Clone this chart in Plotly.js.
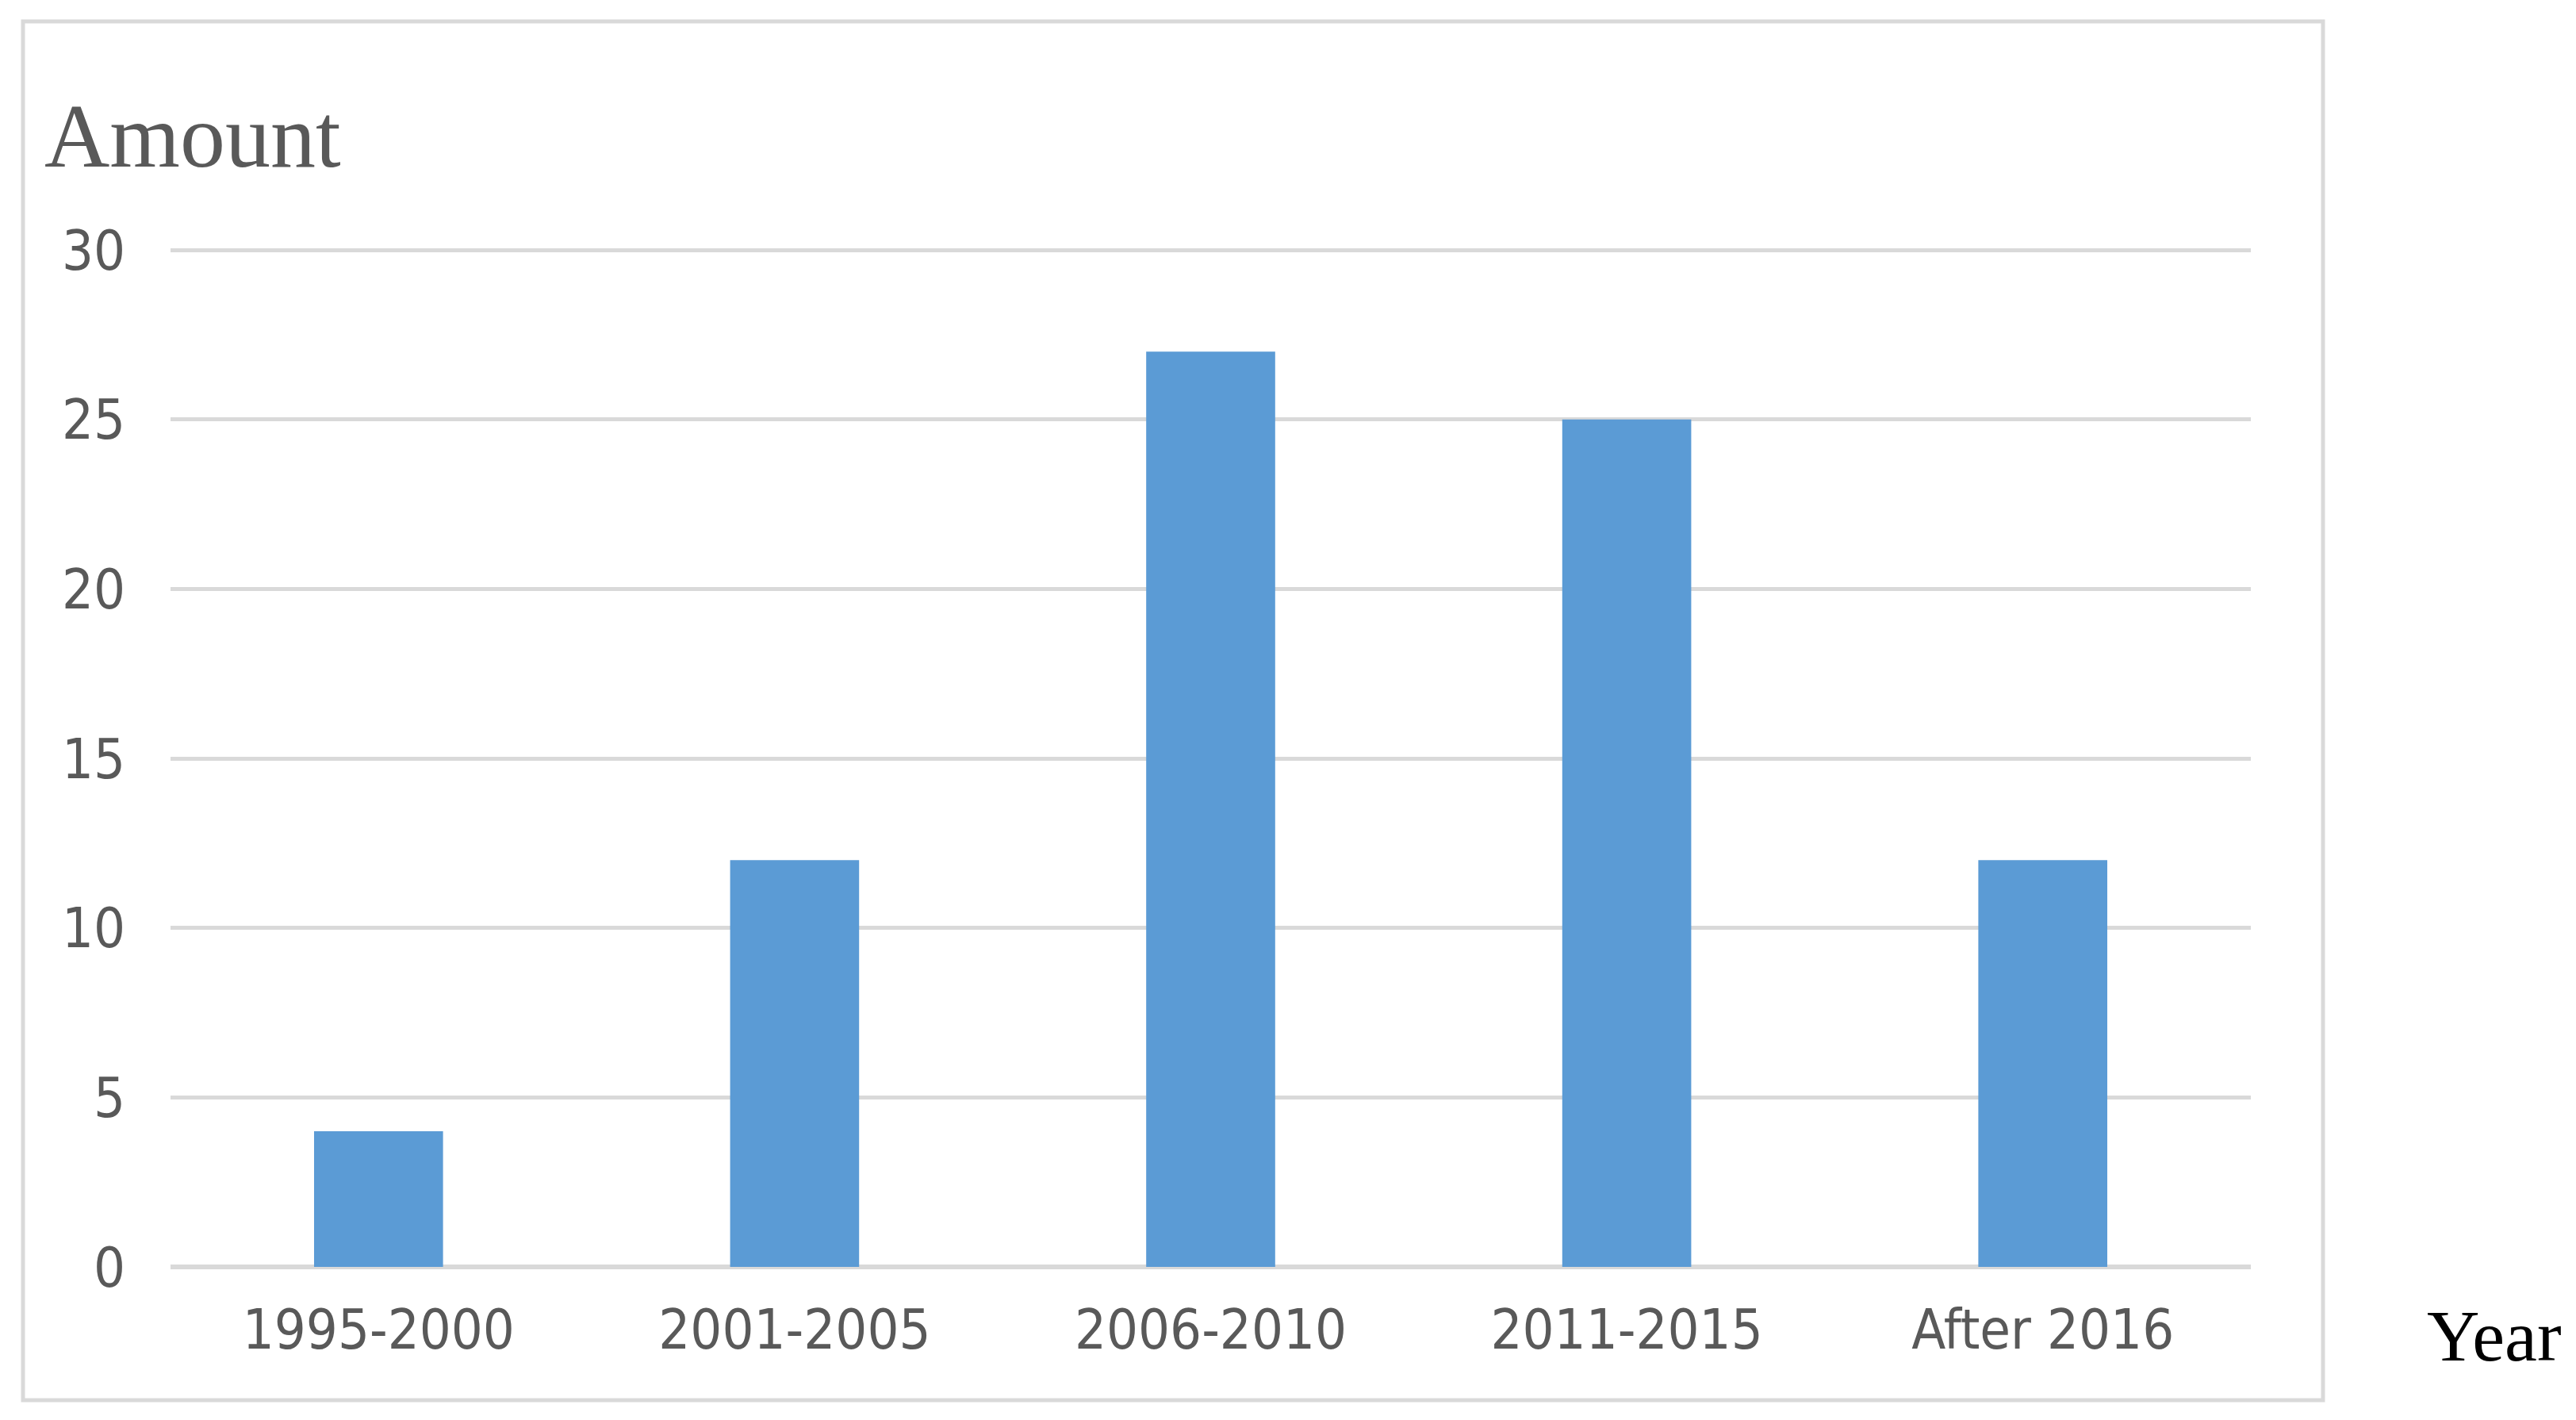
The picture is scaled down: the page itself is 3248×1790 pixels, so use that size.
<!DOCTYPE html>
<html>
<head>
<meta charset="utf-8">
<script src="https://cdn.plot.ly/plotly-3.0.1.min.js"></script>
<style>
  html, body { margin: 0; padding: 0; background: #fff; }
  #chart { width: 3248px; height: 1790px; }
</style>
</head>
<body>
<div id="chart"></div>
<script>
// data
const periods = ["1995-2000", "2001-2005", "2006-2010", "2011-2015", "After 2016"];
const amounts = [4, 12, 27, 25, 12];
const yTicks = [0, 5, 10, 15, 20, 25, 30];

const W = 3248, H = 1790;
const M = { l: 215, r: 410, t: 313, b: 193 };
const pw = W - M.l - M.r, ph = H - M.t - M.b;
// pixel -> paper fraction
const fx = (px) => (px - M.l) / pw;
const fy = (py) => 1 - (py - M.t) / ph;

const grey = "#595959";
const tickFont = { family: "Liberation Sans Narrow, DejaVu Sans Condensed, Arial Narrow, sans-serif", size: 70, color: grey };

Plotly.newPlot("chart", [{
  type: "bar",
  x: periods,
  y: amounts,
  marker: { color: "#5b9bd5" },
  hoverinfo: "x+y",
}], {
  width: W,
  height: H,
  margin: M,
  paper_bgcolor: "#fff",
  plot_bgcolor: "#fff",
  bargap: 0.69,
  showlegend: false,
  xaxis: {
    type: "category",
    showgrid: false,
    showline: false,
    zeroline: false,
    ticks: "",
    tickfont: tickFont,
    ticklabelstandoff: 32,
  },
  yaxis: {
    range: [0, 30.05], // a hair over 30 so the top gridline is drawn
    tickvals: yTicks,
    showgrid: true,
    gridcolor: "#d9d9d9",
    gridwidth: 5,
    zeroline: true,
    zerolinecolor: "#d9d9d9",
    zerolinewidth: 6,
    showline: false,
    ticks: "",
    tickfont: tickFont,
    ticklabelstandoff: 56,
  },
  shapes: [{
    type: "rect", xref: "paper", yref: "paper", layer: "below",
    x0: fx(29), x1: fx(2929), y0: fy(1765), y1: fy(27),
    line: { color: "#d9d9d9", width: 5 },
    fillcolor: "rgba(0,0,0,0)",
  }],
  annotations: [
    {
      text: "Amount", xref: "paper", yref: "paper",
      x: fx(54), y: fy(172), xanchor: "left", yanchor: "middle",
      showarrow: false,
      font: { family: "Liberation Serif, Times New Roman, serif", size: 114, color: grey },
    },
    {
      text: "Year", xref: "paper", yref: "paper",
      x: fx(3058), y: fy(1684), xanchor: "left", yanchor: "middle",
      showarrow: false,
      font: { family: "Liberation Serif, Times New Roman, serif", size: 92, color: "#000" },
    },
  ],
}, { displayModeBar: false, staticPlot: true });
</script>
</body>
</html>
